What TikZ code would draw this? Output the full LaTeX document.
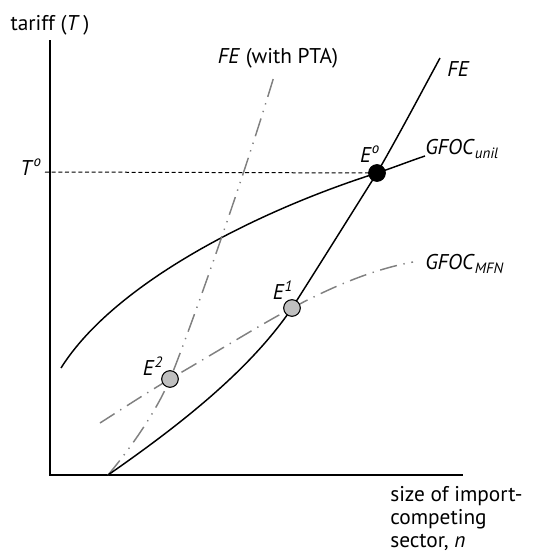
\documentclass[tikz,border=0pt]{standalone}
\usepackage{fontspec}
\setmainfont{PT Sans}
\begin{document}
\begin{tikzpicture}[x=0.75pt,y=-0.75pt,
  axis/.style={line width=1.5pt, line join=miter},
  curve/.style={line width=1.1pt, draw=black},
  grayline/.style={line width=1.1pt, draw=black!50},
  dashdot/.style={dash pattern=on 13pt off 5pt on 1pt off 5pt},
  dashdotdot/.style={dash pattern=on 14pt off 5pt on 1pt off 5pt on 1pt off 5pt},
  guide/.style={line width=0.75pt, dash pattern=on 3pt off 2pt},
  lab/.style={font=\fontsize{16}{17.25}\selectfont, inner sep=0pt},
  eq/.style={circle, draw=black, line width=0.8pt, minimum size=12.5pt, inner sep=0pt},
]
\useasboundingbox (0,0) rectangle (537,554);

% axes
\coordinate (O) at (50,475);
\coordinate (Ytop) at (50,40);
\coordinate (Xend) at (463,475);
\draw[axis] (Ytop) -- (O) -- (Xend);

% key points
\coordinate (pE0) at (377,173);
\coordinate (pE1) at (292,308);
\coordinate (pE2) at (170,379);
\coordinate (base) at (108,475);
\coordinate (Tstart) at (45,172);
\coordinate (unilS) at (61,368);
\coordinate (unilE) at (425,156);
\coordinate (feE) at (440,58);
\coordinate (ptaE) at (275,73);
\coordinate (mfnS) at (100,423);
\coordinate (mfnE) at (413,262);

% T^o guide line
\draw[guide] (Tstart) -- (pE0);

% GFOC_unil
\draw[curve] (unilS) .. controls (115,282) and (260,210) .. (pE0)
  .. controls (395,167) and (410,161) .. (unilE);

% FE (with PTA)
\draw[grayline, dashdotdot] (base) .. controls (125,455) and (155,415) .. (pE2)
  .. controls (185,343) and (240,190) .. (ptaE);

% GFOC_MFN
\draw[grayline, dashdot] (mfnS) .. controls (125,407) and (148,392) .. (pE2)
  .. controls (230,344) and (260,325) .. (pE1)
  .. controls (330,288) and (370,270) .. (mfnE);

% FE
\draw[curve] (base) .. controls (180,425) and (250,370) .. (pE1)
  .. controls (320,264) and (350,216) .. (pE0)
  .. controls (400,133) and (420,95) .. (feE);

% dots
\node[eq, fill=black] (E0) at (pE0) {};
\node[eq, fill=black!25] (E1) at (pE1) {};
\node[eq, fill=black!25] (E2) at (pE2) {};

% labels
\node[lab] (ylab) at (50,25) {tariff (\textit{T}\,)};
\node[lab, anchor=east] (Tlab) at (42,167) {\textit{T}\textsuperscript{\textit{o}}};
\node[lab] (FEPTA) at (278,58) {\textit{FE} (with PTA)};
\node[lab, anchor=west] (FElab) at (447,69) {\textit{FE}};
\node[lab, anchor=west] (unil) at (425,149) {\textit{GFOC}\textsubscript{\textit{unil}}};
\node[lab, anchor=west] (mfn) at (425,264) {\textit{GFOC}\textsubscript{\textit{MFN}}};
\node[lab] (E0lab) at (370,154) {\textit{E}\textsuperscript{\textit{o}}};
\node[lab] (E1lab) at (283,290) {\textit{E}\textsuperscript{\textit{1}}};
\node[lab] (E2lab) at (153,366) {\textit{E}\textsuperscript{\textit{2}}};
\node[lab, anchor=north west, align=left] (xlab) at (390,486) {size of import-\\competing\\sector, \textit{n}};
\end{tikzpicture}
\end{document}
